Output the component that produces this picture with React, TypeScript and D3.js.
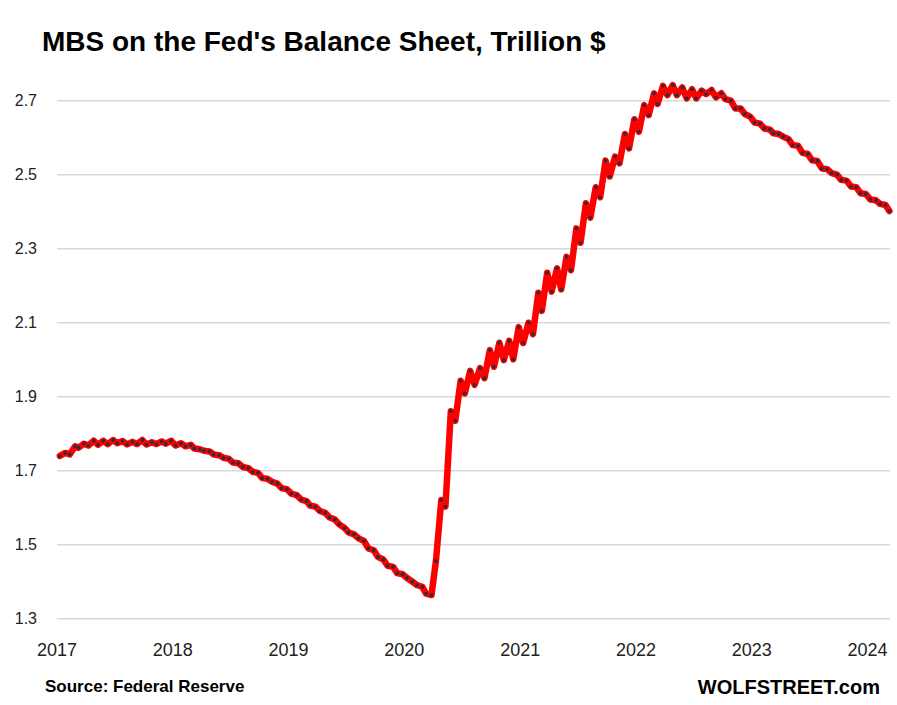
import React, { useEffect, useRef } from 'react';
import * as d3 from 'd3';

// MBS holdings, trillion $, one pair per month from Jan 2017
// low = early-month level, high = late-month level (peak / level before paydown)
const mbsLow = [
  1.740, 1.744, 1.762, 1.768, 1.770, 1.772, 1.774, 1.771, 1.772, 1.771, 1.772, 1.773,
  1.768, 1.766, 1.760, 1.754, 1.744, 1.735, 1.722, 1.710, 1.697, 1.680, 1.670, 1.653,
  1.638, 1.622, 1.606, 1.591, 1.574, 1.555, 1.533, 1.517, 1.490, 1.467, 1.443, 1.423,
  1.410, 1.391, 1.368, 1.456, 1.603, 1.835, 1.909, 1.932, 1.950, 1.981, 1.999, 2.001,
  2.045, 2.069, 2.132, 2.184, 2.190, 2.242, 2.316, 2.384, 2.439, 2.495, 2.531, 2.571,
  2.616, 2.661, 2.691, 2.715, 2.715, 2.706, 2.706, 2.718, 2.709, 2.704, 2.679, 2.664,
  2.641, 2.625, 2.612, 2.603, 2.580, 2.559, 2.539, 2.517, 2.504, 2.486, 2.468, 2.450,
  2.433, 2.421, 2.402
];
const mbsHigh = [
  1.748, 1.766, 1.773, 1.781, 1.781, 1.783, 1.780, 1.778, 1.783, 1.777, 1.779, 1.781,
  1.774, 1.770, 1.758, 1.752, 1.742, 1.732, 1.720, 1.707, 1.694, 1.678, 1.665, 1.650,
  1.634, 1.618, 1.603, 1.586, 1.568, 1.545, 1.528, 1.510, 1.485, 1.460, 1.440, 1.420,
  1.400, 1.386, 1.364, 1.621, 1.861, 1.943, 1.970, 1.977, 2.026, 2.046, 2.051, 2.088,
  2.100, 2.181, 2.235, 2.247, 2.278, 2.355, 2.423, 2.466, 2.538, 2.549, 2.610, 2.650,
  2.688, 2.720, 2.740, 2.742, 2.736, 2.731, 2.727, 2.729, 2.720, 2.700, 2.679, 2.657,
  2.638, 2.622, 2.610, 2.596, 2.578, 2.556, 2.537, 2.515, 2.500, 2.484, 2.466, 2.448,
  2.431, 2.418
];
const yTicks = [1.3, 1.5, 1.7, 1.9, 2.1, 2.3, 2.5, 2.7];
const years = [2017, 2018, 2019, 2020, 2021, 2022, 2023, 2024];

const MbsChart = () => {
  const chartRef = useRef<SVGSVGElement>(null);

  useEffect(() => {
    document.body.style.margin = '0';
    drawChart();
  }, []);

  const drawChart = () => {
    const width = 897;
    const height = 705;
    const font = '"Liberation Sans", Arial, sans-serif';

    const points: { date: Date; value: number }[] = [];
    mbsLow.forEach((v, k) => {
      points.push({ date: new Date(2017, k, 10), value: v });
      if (k < mbsHigh.length) points.push({ date: new Date(2017, k, 27), value: mbsHigh[k] });
    });

    const x = d3.scaleTime()
      .domain([new Date(2017, 0, 1), new Date(2024, 2, 12)])
      .range([57, 890]);
    const y = d3.scaleLinear()
      .domain([1.3, 2.7])
      .range([618.7, 100.7]);

    const svg = d3.select(chartRef.current)
      .attr('width', width)
      .attr('height', height)
      .attr('viewBox', [0, 0, width, height])
      .style('background', 'white')
      .style('font-family', font);

    svg.selectAll('*').remove();

    // title
    svg.append('text')
      .attr('x', 42)
      .attr('y', 51)
      .attr('font-size', 28)
      .attr('font-weight', 'bold')
      .attr('fill', '#000')
      .text("MBS on the Fed's Balance Sheet, Trillion $");

    // grid lines
    svg.append('g')
      .selectAll('line')
      .data(yTicks)
      .join('line')
      .attr('x1', 57)
      .attr('x2', 890)
      .attr('y1', d => y(d))
      .attr('y2', d => y(d))
      .attr('stroke', '#d9d9d9')
      .attr('stroke-width', 1.5);

    // y labels
    svg.append('g')
      .selectAll('text')
      .data(yTicks)
      .join('text')
      .attr('x', 37)
      .attr('y', d => y(d))
      .attr('dy', '0.35em')
      .attr('text-anchor', 'end')
      .attr('font-size', 16)
      .attr('fill', '#222')
      .text(d => d3.format('.1f')(d));

    // x labels
    svg.append('g')
      .selectAll('text')
      .data(years)
      .join('text')
      .attr('x', d => x(new Date(d, 0, 1)))
      .attr('y', 656)
      .attr('text-anchor', 'middle')
      .attr('font-size', 18)
      .attr('fill', '#222')
      .text(d => d);

    const line = d3.line<{ date: Date; value: number }>()
      .x(d => x(d.date))
      .y(d => y(d.value));

    svg.append('path')
      .datum(points)
      .attr('d', line)
      .attr('fill', 'none')
      .attr('stroke', '#ff0000')
      .attr('stroke-width', 6.5)
      .attr('stroke-linejoin', 'round')
      .attr('stroke-linecap', 'round');

    svg.append('g')
      .selectAll('circle')
      .data(points)
      .join('circle')
      .attr('cx', d => x(d.date))
      .attr('cy', d => y(d.value))
      .attr('r', 1.9)
      .attr('fill', '#2e2e3a');

    // footer
    svg.append('text')
      .attr('x', 45)
      .attr('y', 692)
      .attr('font-size', 17)
      .attr('font-weight', 'bold')
      .attr('fill', '#000')
      .text('Source: Federal Reserve');

    svg.append('text')
      .attr('x', 880)
      .attr('y', 694)
      .attr('text-anchor', 'end')
      .attr('font-size', 20)
      .attr('font-weight', 'bold')
      .attr('fill', '#000')
      .text('WOLFSTREET.com');
  };

  return <svg ref={chartRef} style={{ position: 'absolute', left: 0, top: 0 }}></svg>;
};

export default function App() {
  return <MbsChart />;
}
